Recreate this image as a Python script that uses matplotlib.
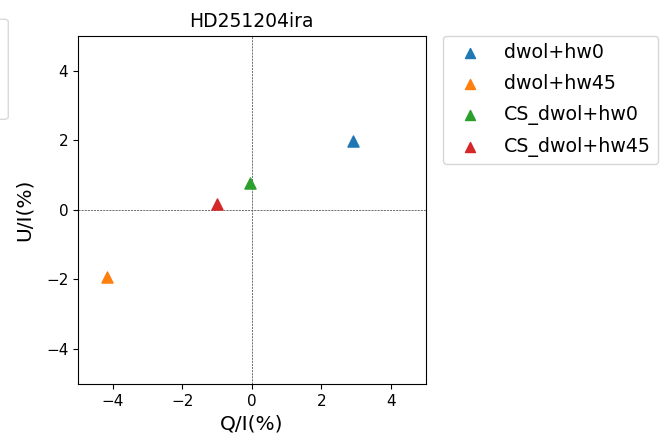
import matplotlib
matplotlib.use("Agg")
import matplotlib.pyplot as plt
from matplotlib.patches import FancyBboxPatch

labels = ["dwol+hw0", "dwol+hw45", "CS_dwol+hw0", "CS_dwol+hw45"]
q_vals = [2.90, -4.17, -0.04, -1.01]
u_vals = [1.98, -1.93, 0.78, 0.18]
colors = ["#1f77b4", "#ff7f0e", "#2ca02c", "#d62728"]
ticks = [-4, -2, 0, 2, 4]

fig = plt.figure(figsize=(6.69, 4.40), dpi=100)
ax = fig.add_axes([0.1166, 0.1273, 0.5197, 0.7916])

ax.axhline(0, color="0.35", lw=0.6, ls="--", dashes=(2.5, 1.2), zorder=1)
ax.axvline(0, color="0.35", lw=0.6, ls="--", dashes=(2.5, 1.2), zorder=1)

for q, u, lab, c in zip(q_vals, u_vals, labels, colors):
    ax.scatter([q], [u], marker="^", s=64, color=c, label=lab, zorder=3)

ax.set_xlim(-5, 5)
ax.set_ylim(-5, 5)
ax.set_xticks(ticks)
ax.set_yticks(ticks)
ax.tick_params(labelsize=11)
ax.set_xlabel("Q/I(%)", fontsize=14.5)
ax.set_ylabel("U/I(%)", fontsize=14.5, labelpad=9)
ax.set_title("HD251204ira", fontsize=13.5)

ax.legend(loc="upper left", bbox_to_anchor=(1.05, 1.0), borderaxespad=0,
          fontsize=13.7, markerscale=0.9, labelspacing=0.62)

# partially visible box at left edge
W, H = 669.0, 440.0
box = FancyBboxPatch((-60 / W, (H - 119.3) / H), (68.3) / W, 100 / H,
                     boxstyle="round,pad=0,rounding_size=0.006",
                     transform=fig.transFigure, facecolor="white",
                     edgecolor="0.85", lw=1.0)
fig.patches.append(box)

fig.savefig("out.png", dpi=100)
